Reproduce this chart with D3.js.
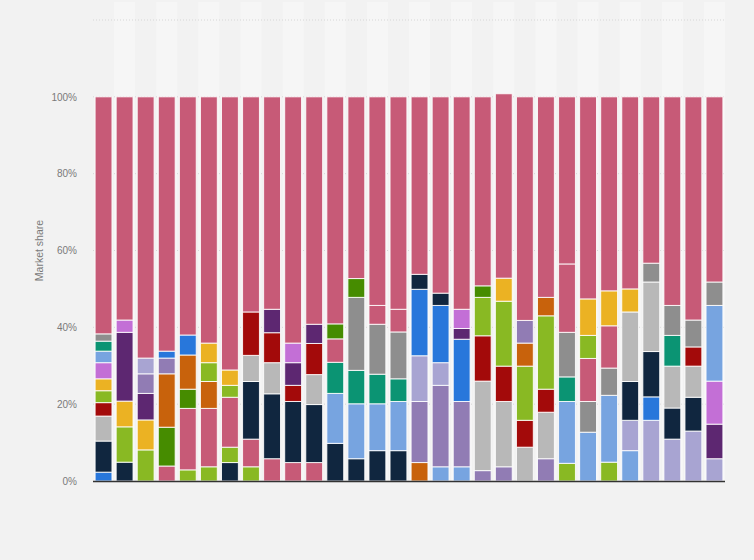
<!DOCTYPE html>
<html>
<head>
<meta charset="utf-8">
<script src="https://cdn.jsdelivr.net/npm/d3@7"></script>
<style>
  html, body { margin: 0; padding: 0; background: #f2f2f2; }
  svg { display: block; font-family: "Liberation Sans", Arial, sans-serif; }
</style>
</head>
<body>
<svg width="754" height="560"></svg>
<script>
// one entry per bar (no x labels are shown on the chart)
var bars = ["1","2","3","4","5","6","7","8","9","10","11","12","13","14","15",
            "16","17","18","19","20","21","22","23","24","25","26","27","28","29","30"];

// colour of every segment, bottom to top
var segKeys = [
  ["blue","navy","lgrey","red","lime","yellow","orchid","lblue","teal","dgrey","pink"],
  ["navy","lime","yellow","purple","orchid","pink"],
  ["lime","yellow","purple","mauve","lavender","pink"],
  ["pink","green","orange","mauve","blue","pink"],
  ["lime","pink","green","orange","blue","pink"],
  ["lime","pink","orange","lime","yellow","pink"],
  ["navy","lime","pink","lime","yellow","pink"],
  ["lime","pink","navy","lgrey","red","pink"],
  ["pink","navy","lgrey","red","purple","pink"],
  ["pink","navy","red","purple","orchid","pink"],
  ["pink","navy","lgrey","red","purple","pink"],
  ["navy","lblue","teal","pink","green","pink"],
  ["navy","lblue","teal","dgrey","green","pink"],
  ["navy","lblue","teal","dgrey","pink","pink"],
  ["navy","lblue","teal","dgrey","pink","pink"],
  ["orange","mauve","lavender","blue","navy","pink"],
  ["lblue","mauve","lavender","blue","navy","pink"],
  ["lblue","mauve","blue","purple","orchid","pink"],
  ["mauve","lgrey","red","lime","green","pink"],
  ["mauve","lgrey","red","lime","yellow","pink"],
  ["lgrey","red","lime","orange","mauve","pink"],
  ["mauve","lgrey","red","lime","orange","pink"],
  ["lime","lblue","teal","dgrey","pink","pink"],
  ["lblue","dgrey","pink","lime","yellow","pink"],
  ["lime","lblue","dgrey","pink","yellow","pink"],
  ["lblue","lavender","navy","lgrey","yellow","pink"],
  ["lavender","blue","navy","lgrey","dgrey","pink"],
  ["lavender","navy","lgrey","teal","dgrey","pink"],
  ["lavender","navy","lgrey","red","dgrey","pink"],
  ["lavender","purple","orchid","lblue","dgrey","pink"]
];

// market share of every segment in %, bottom to top
var segValues = [
  [2.3, 8.1, 6.5, 3.5, 3.1, 3.1, 4.2, 3.0, 2.6, 1.9, 61.7],
  [4.9, 9.2, 6.7, 17.9, 3.2, 58.1],
  [8.1, 7.8, 6.9, 5.1, 4.1, 68.0],
  [3.9, 10.1, 13.9, 4.1, 1.8, 66.2],
  [2.9, 16.0, 5.0, 8.9, 5.2, 62.0],
  [3.7, 15.2, 7.0, 4.9, 5.1, 64.1],
  [4.8, 4.0, 13.0, 3.1, 4.0, 71.1],
  [3.7, 7.2, 15.0, 6.8, 11.3, 56.0],
  [5.8, 16.9, 8.1, 7.8, 6.1, 55.3],
  [4.8, 15.9, 4.2, 5.9, 5.1, 64.1],
  [4.8, 15.1, 7.8, 8.1, 5.0, 59.2],
  [9.8, 13.0, 8.1, 6.1, 3.9, 59.1],
  [5.8, 14.3, 8.7, 19.0, 4.9, 47.3],
  [7.9, 12.2, 7.7, 13.0, 4.9, 54.3],
  [7.9, 12.8, 5.9, 12.2, 5.9, 55.3],
  [4.8, 15.9, 11.9, 17.3, 3.9, 46.2],
  [3.7, 21.2, 5.9, 14.9, 3.2, 51.1],
  [3.7, 17.0, 16.2, 2.8, 5.0, 55.3],
  [2.7, 23.3, 11.8, 10.0, 3.0, 49.2],
  [3.7, 17.0, 9.2, 16.9, 6.0, 48.0],
  [8.8, 7.0, 14.1, 6.0, 5.9, 58.2],
  [5.8, 12.1, 6.0, 19.1, 4.8, 52.2],
  [4.6, 16.1, 6.4, 11.6, 17.8, 43.5],
  [12.7, 8.0, 11.2, 6.0, 9.5, 52.6],
  [4.9, 17.4, 7.1, 11.0, 9.1, 50.5],
  [7.9, 7.9, 10.1, 18.1, 6.0, 50.0],
  [15.8, 6.1, 11.8, 18.1, 4.9, 43.3],
  [10.9, 8.1, 10.9, 8.0, 7.8, 54.3],
  [13.0, 8.8, 8.1, 5.0, 7.0, 58.1],
  [5.8, 9.0, 11.2, 19.7, 6.1, 48.2]
];

var yTicks = [0, 20, 40, 60, 80, 100];
var gridTicks = [20, 40, 60, 80, 100, 120];

var colorKeys = ["pink","navy","lgrey","dgrey","red","lime","yellow","orchid",
                 "lblue","teal","blue","purple","lavender","mauve","orange","green"];
var colorVals = ["#c75a77","#10263f","#b8b8b8","#8e8e8e","#a30a0a","#89b923","#ebb223","#c36fd6",
                 "#77a4e0","#0b9473","#2877db","#5d2771","#a8a4d2","#917cb4","#c8620c","#468c00"];

var svg = d3.select("svg");
PLOT = ({left: 93, right: 725, top: 20, bottom: 481});

var x = d3.scaleBand().domain(bars).range([PLOT.left, PLOT.right])
    .paddingInner(0.2).paddingOuter(0.1);
var y = d3.scaleLinear().domain([0, 120]).range([PLOT.bottom, PLOT.top]);
var color = d3.scaleOrdinal().domain(colorKeys).range(colorVals);

// alternating column stripes
var half = (x.step() - x.bandwidth()) / 2;
svg.append("g")
  .selectAll("rect")
  .data(bars.filter((d, i) => i % 2 == 1))
  .enter().append("rect")
    .attr("x", d => x(d) - half)
    .attr("y", 2)
    .attr("width", x.step())
    .attr("height", PLOT.bottom - 2)
    .attr("fill", "#f6f6f6");

// dotted gridlines
svg.append("g")
  .selectAll("line")
  .data(gridTicks)
  .enter().append("line")
    .attr("x1", PLOT.left).attr("x2", PLOT.right)
    .attr("y1", d => y(d)).attr("y2", d => y(d))
    .attr("stroke", "#d6d6d6")
    .attr("stroke-dasharray", "1,2");

// stacked segments
var rows = bars.map(function(b, i) {
  var ends = d3.cumsum(segValues[i]);
  return segValues[i].map((v, j) => ({bar: b, key: segKeys[i][j], y0: ends[j] - v, y1: ends[j]}));
});

svg.append("g")
  .selectAll("g")
  .data(rows)
  .enter().append("g")
  .selectAll("rect")
  .data(d => d)
  .enter().append("rect")
    .attr("x", d => x(d.bar))
    .attr("width", x.bandwidth())
    .attr("y", d => y(d.y1))
    .attr("height", d => y(d.y0) - y(d.y1))
    .attr("fill", d => color(d.key))
    .attr("stroke", "#ffffff")
    .attr("stroke-opacity", 0.85)
    .attr("stroke-width", 1);

// y axis labels
var yAxis = svg.append("g")
    .attr("transform", "translate(" + PLOT.left + ",0)")
    .call(d3.axisLeft(y).tickValues(yTicks).tickFormat(d => d + "%").tickSize(0).tickPadding(16));
yAxis.select(".domain").remove();
yAxis.selectAll("text")
    .attr("fill", "#7a7a7a")
    .attr("font-size", "10px")
    .attr("font-family", "Liberation Sans, Arial, sans-serif");

// x axis baseline
svg.append("line")
    .attr("x1", PLOT.left).attr("x2", PLOT.right)
    .attr("y1", y(0) + 0.5).attr("y2", y(0) + 0.5)
    .attr("stroke", "#333")
    .attr("stroke-width", 1.5);

svg.append("text")
    .attr("transform", "translate(43," + ((PLOT.top + PLOT.bottom) / 2) + ") rotate(-90)")
    .attr("text-anchor", "middle")
    .attr("fill", "#7a7a7a")
    .attr("font-size", "10.5px")
    .text("Market share");
</script>
</body>
</html>
